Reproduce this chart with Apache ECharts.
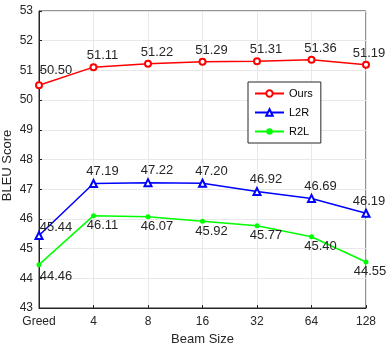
<!DOCTYPE html>
<html>
<head>
<meta charset="utf-8">
<script src="https://cdn.jsdelivr.net/npm/echarts@6/dist/echarts.min.js"></script>
<style>
  html, body { margin: 0; padding: 0; background: #fff; }
  #chart { width: 387px; height: 344px; }
</style>
</head>
<body>
<div id="chart"></div>
<script>
// beam sizes on the x axis
var beamSizes = ['Greed', '4', '8', '16', '32', '64', '128'];
var yTicks = [43, 44, 45, 46, 47, 48, 49, 50, 51, 52, 53];

var oursScores = [50.50, 51.11, 51.22, 51.29, 51.31, 51.36, 51.19];
var l2rScores = [45.44, 47.19, 47.22, 47.20, 46.92, 46.69, 46.19];
var r2lScores = [44.46, 46.11, 46.07, 45.92, 45.77, 45.40, 44.55];

var FONT = 'Liberation Sans';

// label on a point, with a small nudge like matlab's text()
function withLabels(values, pos, firstOffset, lastOffset) {
  return values.map(function (v, i) {
    var off = [9, 0];
    if (i === 0) off = firstOffset;
    if (i === values.length - 1) off = lastOffset;
    return { value: v, label: { position: pos, offset: off } };
  });
}

var chart = echarts.init(document.getElementById('chart'), null, { renderer: 'canvas' });

var labelStyle = {
  show: true,
  fontFamily: FONT,
  fontSize: 13,
  color: '#262626',
  distance: 1,
  formatter: function (p) { return p.value.toFixed(2); }
};

var option = {
  animation: false,
  backgroundColor: '#fff',
  grid: {
    left: 39, right: 21, top: 11, bottom: 36,
    outerBoundsMode: 'none',
    show: true, borderColor: '#262626', borderWidth: 1
  },
  xAxis: {
    type: 'category',
    data: beamSizes,
    boundaryGap: false,
    name: 'Beam Size',
    nameLocation: 'middle',
    nameGap: 24,
    nameTextStyle: { fontFamily: FONT, fontSize: 13, color: '#262626' },
    axisLine: { lineStyle: { color: '#262626' } },
    axisTick: { inside: true, length: 3, lineStyle: { color: '#262626' } },
    axisLabel: { fontFamily: FONT, fontSize: 12, color: '#262626', margin: 8 },
    splitLine: { show: true, lineStyle: { color: '#e8e8e8' } }
  },
  yAxis: {
    type: 'value',
    min: yTicks[0],
    max: yTicks[yTicks.length - 1],
    interval: 1,
    name: 'BLEU Score',
    nameLocation: 'middle',
    nameMoveOverlap: false,
    nameGap: 25,
    nameTextStyle: { fontFamily: FONT, fontSize: 13, color: '#262626', padding: [0, 0, 0, -12] },
    axisLine: { show: true, lineStyle: { color: '#262626' } },
    axisTick: { show: true, inside: true, length: 3, lineStyle: { color: '#262626' } },
    axisLabel: { fontFamily: FONT, fontSize: 12, color: '#262626', margin: 6 },
    splitLine: { show: true, lineStyle: { color: '#e8e8e8' } }
  },
  legend: {
    orient: 'vertical',
    left: 248,
    top: 82,
    padding: [6, 8, 6, 6],
    itemWidth: 29,
    itemHeight: 8,
    itemGap: 8,
    backgroundColor: '#fff',
    borderColor: '#262626',
    borderWidth: 1,
    borderRadius: 0,
    textStyle: { fontFamily: FONT, fontSize: 11, lineHeight: 11, color: '#000' },
    data: ['Ours', 'L2R', 'R2L']
  },
  series: [
    {
      name: 'Ours',
      type: 'line',
      data: withLabels(oursScores, 'top', [17, -3], [3, 0]),
      color: '#ff0000',
      lineStyle: { width: 1.5 },
      symbol: 'emptyCircle',
      symbolSize: 6,
      itemStyle: { borderWidth: 1.5 },
      label: labelStyle
    },
    {
      name: 'L2R',
      type: 'line',
      data: withLabels(l2rScores, 'top', [17, 4], [3, 0]),
      color: '#0000ff',
      lineStyle: { width: 1.5 },
      symbol: 'emptyTriangle',
      symbolSize: 7,
      itemStyle: { borderWidth: 1.5 },
      label: labelStyle
    },
    {
      name: 'R2L',
      type: 'line',
      data: withLabels(r2lScores, 'bottom', [17, 2], [4, -1]),
      color: '#00ff00',
      lineStyle: { width: 1.5 },
      symbol: 'circle',
      symbolSize: 5,
      label: labelStyle
    }
  ]
};

chart.setOption(option);
</script>
</body>
</html>
